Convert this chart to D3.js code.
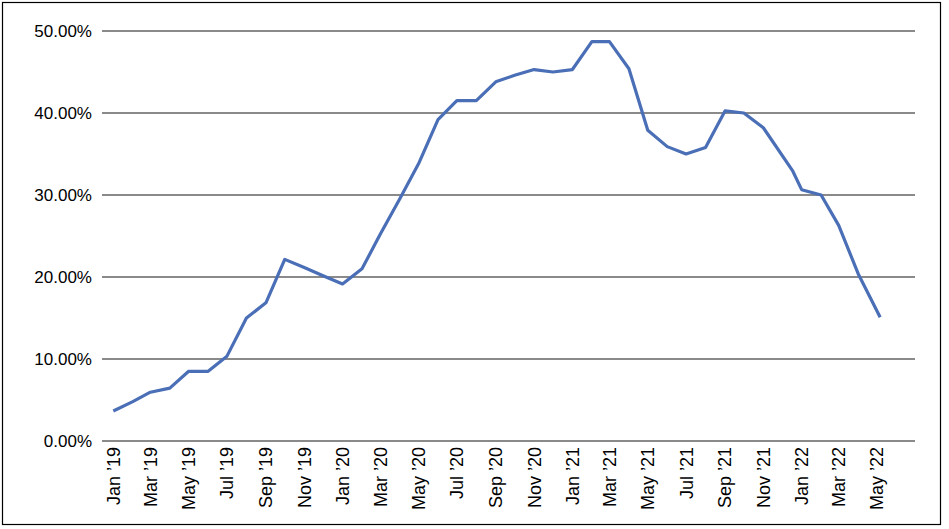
<!DOCTYPE html>
<html>
<head>
<meta charset="utf-8">
<script src="https://cdn.jsdelivr.net/npm/d3@7"></script>
<style>
  html, body { margin: 0; padding: 0; background: #fff; }
  svg { display: block; }
  text { font-family: "Liberation Sans", Arial, sans-serif; fill: #000; }
</style>
</head>
<body>
<svg id="chart" width="949" height="529"></svg>
<script>
// ---- data ----
const dates = [
  "2019-01-01","2019-02-01","2019-03-01","2019-04-01","2019-05-01","2019-06-01",
  "2019-07-01","2019-08-01","2019-09-01","2019-10-01","2019-11-01","2019-12-01",
  "2020-01-01","2020-02-01","2020-03-01","2020-04-01","2020-05-01","2020-06-01",
  "2020-07-01","2020-08-01","2020-09-01","2020-10-01","2020-11-01","2020-12-01",
  "2021-01-01","2021-02-01","2021-03-01","2021-04-01","2021-05-01","2021-06-01",
  "2021-07-01","2021-08-01","2021-09-01","2021-10-01","2021-11-01","2021-12-18",
  "2022-01-01","2022-02-01","2022-03-01","2022-04-01","2022-05-06"
];
const values = [
  3.66, 4.8, 5.95, 6.45, 8.5, 8.5,
  10.35, 15.0, 16.85, 22.15, 21.15, 20.15,
  19.15, 21.0, 25.2, 29.5, 33.8, 39.2,
  41.5, 41.5, 43.8, 44.6, 45.3, 45.0,
  45.3, 48.7, 48.7, 45.4, 37.9, 35.9,
  35.0, 35.8, 40.25, 40.0, 38.2, 32.9,
  30.65, 30.0, 26.3, 20.4, 15.1
];
const yTicks = [0, 10, 20, 30, 40, 50];
const monthNames = ["Jan","Feb","Mar","Apr","May","Jun","Jul","Aug","Sep","Oct","Nov","Dec"];
const xTickDates = [
  "2019-01-01","2019-03-01","2019-05-01","2019-07-01","2019-09-01","2019-11-01",
  "2020-01-01","2020-03-01","2020-05-01","2020-07-01","2020-09-01","2020-11-01",
  "2021-01-01","2021-03-01","2021-05-01","2021-07-01","2021-09-01","2021-11-01",
  "2022-01-01","2022-03-01","2022-05-01"
];

const parse = d3.utcParse("%Y-%m-%d");
const data = dates.map((d, i) => ({ date: parse(d), value: values[i] }));

const svg = d3.select("#chart");

// outer border
svg.append("rect")
  .attr("x", 2.5).attr("y", 2.5)
  .attr("width", 938).attr("height", 522)
  .attr("fill", "none").attr("stroke", "#000").attr("stroke-width", 1.2);

const plotLeft = 102, plotRight = 915;

const x = d3.scaleUtc()
  .domain([parse("2019-01-01"), parse("2022-05-01")])
  .range([113.3, 877]);

const y = d3.scaleLinear()
  .domain([0, 50])
  .range([441, 31]);

// gridlines
svg.append("g")
  .selectAll("line")
  .data(yTicks)
  .join("line")
  .attr("x1", plotLeft).attr("x2", plotRight)
  .attr("y1", d => y(d)).attr("y2", d => y(d))
  .attr("stroke", "#8a8a8a").attr("stroke-width", 2);

// y labels
svg.append("g")
  .selectAll("text")
  .data(yTicks)
  .join("text")
  .attr("x", 92)
  .attr("y", d => y(d))
  .attr("dy", "0.36em")
  .attr("text-anchor", "end")
  .style("font-size", "17px")
  .text(d => d3.format(".2f")(d) + "%");

// x labels
svg.append("g")
  .selectAll("text")
  .data(xTickDates.map(parse))
  .join("text")
  .attr("transform", d => `translate(${x(d)},447) rotate(-90)`)
  .attr("dy", "0.36em")
  .attr("text-anchor", "end")
  .style("font-size", "18px")
  .text(d => monthNames[d.getUTCMonth()] + " \u2019" + String(d.getUTCFullYear()).slice(2));

// line
const line = d3.line()
  .x(d => x(d.date))
  .y(d => y(d.value));

svg.append("path")
  .datum(data)
  .attr("d", line)
  .attr("fill", "none")
  .attr("stroke", "#4a6fb6")
  .attr("stroke-width", 3.2)
  .attr("stroke-linejoin", "round");
</script>
</body>
</html>
